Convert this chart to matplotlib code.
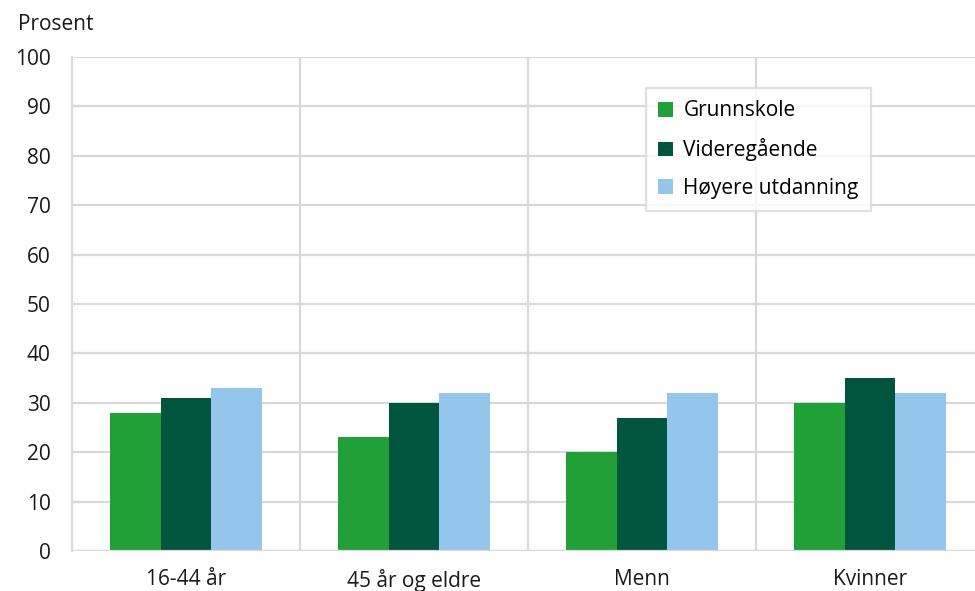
import numpy as np
import matplotlib.pyplot as plt
from matplotlib.patches import Patch

categories = ['16-44 år', '45 år og eldre', 'Menn', 'Kvinner']
grunnskole = [28, 23, 20, 30]
videregaende = [31, 30, 27, 35]
hoyere = [33, 32, 32, 32]
series_names = ['Grunnskole', 'Videregående', 'Høyere utdanning']
colors = ['#21a038', '#00553f', '#94c6ec']

plt.rcParams['font.family'] = ['Open Sans', 'DejaVu Sans']
plt.rcParams['font.size'] = 15

fig = plt.figure(figsize=(9.75, 5.91), dpi=100)
# axes extends a little past the right edge, as in the reference
ax = fig.add_axes([72/975, 1-551/591, 912/975, 494/591])

x = np.arange(len(categories))
w = 0.222
for i, vals in enumerate([grunnskole, videregaende, hoyere]):
    ax.bar(x + (i-1)*w, vals, w, color=colors[i], zorder=3)

ax.set_xlim(-0.5, len(categories)-0.5)
ax.set_ylim(0, 100)
ax.set_yticks(range(0, 101, 10))
ax.set_xticks(x)
ax.set_xticklabels(categories)
ax.tick_params(axis='both', length=0, colors='#1a1a1a')
ax.tick_params(axis='y', pad=15.5)
ax.tick_params(axis='x', pad=13)

grid_c = '#d9d9d9'
ax.yaxis.grid(True, color=grid_c, lw=1.6, zorder=0)
for b in np.arange(0.5, len(categories)-0.5, 1):
    ax.axvline(b, color=grid_c, lw=1.6, zorder=0)
for s in ['top', 'right', 'bottom']:
    ax.spines[s].set_visible(False)
ax.spines['left'].set_color(grid_c)
ax.spines['left'].set_linewidth(1.6)
ax.axhline(0, color=grid_c, lw=1.6, zorder=4)

fig.text(18/975, 1-24/591, 'Prosent', fontsize=15, va='center', color='#1a1a1a')

handles = [Patch(facecolor=c) for c in colors]
leg = ax.legend(handles, series_names, loc='upper left',
                bbox_to_anchor=((646-72)/912, (551-88)/494), borderaxespad=0,
                frameon=True, fancybox=False, edgecolor=grid_c,
                handlelength=0.7, handleheight=0.7, handletextpad=0.5,
                labelspacing=0.8, borderpad=0.6, fontsize=15)
leg.get_frame().set_linewidth(1.6)

fig.savefig('out.png', dpi=100)
